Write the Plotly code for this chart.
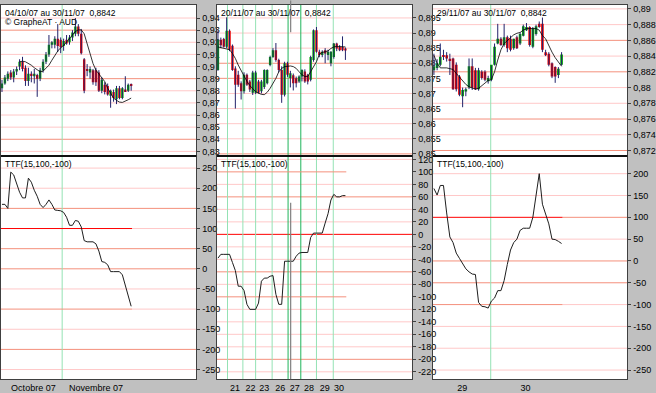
import plotly.graph_objects as go

W, H = 656, 393

# ---------------- DATA ----------------
# Panel 1 : daily candles 04/10/07 -> 30/11/07
p1_open = [0.882,0.886,0.890,0.895,0.891,0.896,0.900,0.904,0.899,0.888,0.894,0.892,0.893,0.890,0.897,
           0.904,0.910,0.918,0.918,0.923,0.922,0.917,0.922,0.920,0.924,0.927,0.933,0.927,0.906,0.898,
           0.895,0.897,0.897,0.895,0.880,0.885,0.884,0.876,0.879,0.873,0.882,0.874,0.881,0.880,0.885]
p1_high = [0.889,0.893,0.896,0.897,0.898,0.900,0.906,0.908,0.901,0.899,0.896,0.898,0.894,0.899,0.906,
           0.912,0.926,0.921,0.925,0.935,0.924,0.923,0.926,0.926,0.930,0.940,0.935,0.931,0.907,0.902,
           0.900,0.898,0.899,0.897,0.891,0.887,0.886,0.881,0.881,0.884,0.884,0.883,0.892,0.886,0.886]
p1_low = [0.879,0.885,0.888,0.889,0.887,0.893,0.897,0.896,0.884,0.884,0.887,0.886,0.875,0.888,0.895,
          0.902,0.908,0.915,0.915,0.912,0.911,0.913,0.918,0.918,0.921,0.925,0.925,0.910,0.878,0.892,
          0.890,0.885,0.884,0.879,0.878,0.877,0.876,0.866,0.871,0.869,0.873,0.873,0.879,0.879,0.880]
p1_close = [0.886,0.891,0.894,0.891,0.896,0.898,0.904,0.898,0.888,0.894,0.893,0.894,0.890,0.897,0.904,
            0.910,0.918,0.920,0.923,0.917,0.916,0.921,0.919,0.924,0.928,0.933,0.927,0.911,0.880,0.897,
            0.898,0.887,0.887,0.880,0.889,0.879,0.877,0.880,0.874,0.882,0.874,0.882,0.879,0.885,0.8842]
p1_ma = [None]*6 + [0.9039,0.9044,0.9039,0.9025,0.9011,0.899,0.897,0.8957,0.8962,0.8984,
                    0.9011,0.9052,0.9093,0.9128,0.9155,0.9174,0.9202,0.9229,0.9261,0.9289,
                    0.9302,0.9302,0.927,0.9188,0.9107,0.9025,0.897,0.8938,0.8911,0.8876,
                    0.8821,0.878,0.874,0.8721,0.8707,0.8704,0.8712,0.8726,0.874]
p1_ttf = [160,160,150,240,233,210,190,176,176,225,215,195,180,160,152,160,171,160,146,145,
          144,140,128,108,108,120,118,104,70,67,67,67,62,44,18,16,10,-7,-7,-7,-7,-15,-40,-70,-93]
p1_month_sep = [20.5]
p1_xtick_pos = [10.7, 32.0]
p1_xtick_text = ["Octobre 07", "Novembre 07"]
p1_price_ticks = [0.83,0.84,0.85,0.86,0.87,0.88,0.89,0.90,0.91,0.92,0.93,0.94]
p1_price_text = ["0,83","0,84","0,85","0,86","0,87","0,88","0,89","0,9","0,91","0,92","0,93","0,94"]
p1_ttf_ticks = [-250,-200,-150,-100,-50,0,50,100,150,200,250]

# Panel 2 : intraday 20/11/07 -> 30/11/07
p2_open = [0.8778,0.8878,0.8880,0.8855,0.8908,0.8858,0.8783,0.8762,0.8734,0.8707,0.8762,0.8740,0.8702,0.8702,0.8740,
           0.8707,0.8721,0.8734,0.8794,0.8821,0.8843,0.8811,0.8778,0.8696,0.8800,0.8751,0.8760,0.8750,0.8740,0.8756,
           0.8773,0.8762,0.8745,0.8811,0.8909,0.8838,0.8827,0.8843,0.8827,0.8800,0.8821,0.8865,0.8854,0.8854,0.8849]
p2_high = [0.8909,0.8885,0.8884,0.8952,0.8912,0.8862,0.8790,0.8775,0.8740,0.8770,0.8766,0.8745,0.8775,0.8775,0.8745,
           0.8745,0.8780,0.8780,0.8825,0.8850,0.8867,0.8815,0.8790,0.8805,0.8805,0.8775,0.8766,0.8756,0.8760,0.8780,
           0.8780,0.8765,0.8825,0.8912,0.8920,0.8845,0.8843,0.8850,0.8845,0.8840,0.8867,0.8868,0.8860,0.8889,0.8852]
p2_low = [0.8775,0.8850,0.8852,0.8850,0.8840,0.8775,0.8650,0.8722,0.8680,0.8700,0.8725,0.8705,0.8695,0.8698,0.8700,
          0.8700,0.8715,0.8730,0.8790,0.8818,0.8805,0.8770,0.8669,0.8690,0.8755,0.8720,0.8710,0.8720,0.8735,0.8740,
          0.8735,0.8730,0.8740,0.8805,0.8835,0.8820,0.8820,0.8800,0.8810,0.8790,0.8815,0.8840,0.8840,0.8840,0.8811]
p2_close = [0.8878,0.8860,0.8855,0.8908,0.8845,0.8778,0.8729,0.8729,0.8707,0.8762,0.8729,0.8713,0.8769,0.8769,0.8702,
            0.8740,0.8778,0.8778,0.8821,0.8843,0.8811,0.8778,0.8696,0.8800,0.8762,0.8767,0.8734,0.8734,0.8756,0.8778,
            0.8740,0.8740,0.8821,0.8909,0.8838,0.8827,0.8838,0.8832,0.8838,0.8838,0.8865,0.8849,0.8843,0.8843,0.8842]
p2_ma = [0.8854,0.8852,0.8851,0.8849,0.8845,0.8832,0.8816,0.8794,0.8775,0.8756,0.874,0.8726,0.8715,0.8706,0.8701,
         0.8697,0.8696,0.8704,0.8717,0.8732,0.875,0.8772,0.8783,0.8789,0.8791,0.8791,0.8789,0.8783,0.8772,0.8762,
         0.8756,0.8756,0.8772,0.8789,0.8805,0.883,0.8836,0.8838,0.8841,0.8849,0.8854,0.8856,0.8856,0.8855,0.8854]
p2_ttf = [-38,-32,-32,-32,-32,-45,-58,-83,-83,-90,-112,-120,-120,-120,-110,-75,-70,-70,-67,-66,
          -96,-112,-112,-43,-43,-43,-43,-35,-30,-29,-29,-29,-5,2,2,2,2,18,33,55,64,60,60,62,62]
p2_day_sep = [3.3, 8.6, 13.0, 18.7, 24.2, 28.6, 34.0, 39.8]
p2_day_pos = [5.9, 11.2, 16.0, 21.5, 26.5, 31.4, 36.9, 41.8]
p2_day_text = ["21", "22", "23", "26", "27", "28", "29", "30"]
p2_cursor = 25.1
p2_price_ticks = [0.85,0.855,0.86,0.865,0.87,0.875,0.88,0.885,0.89,0.895]
p2_price_text = ["0,85","0,855","0,86","0,865","0,87","0,875","0,88","0,885","0,89","0,895"]
p2_ttf_ticks = [-220,-200,-180,-160,-140,-120,-100,-80,-60,-40,-20,0,20,40,60,80,100,120]

# Panel 3 : intraday 29/11/07 -> 30/11/07
p3_open = [0.8822,0.8825,0.8829,0.8841,0.8841,0.8836,0.8837,0.8829,0.8814,0.8789,0.8795,0.8800,0.8827,0.8822,0.8798,
           0.8820,0.8820,0.8808,0.8810,0.8829,0.8856,0.8862,0.8854,0.8864,0.8862,0.8850,0.8864,0.8856,0.8866,0.8873,
           0.8877,0.8852,0.8868,0.8881,0.8881,0.8845,0.8843,0.8831,0.8826,0.8816,0.8829]
p3_high = [0.8843,0.8836,0.8856,0.8848,0.8845,0.8843,0.8838,0.8832,0.8816,0.8800,0.8800,0.8837,0.8837,0.8825,0.8825,
           0.8822,0.8822,0.8815,0.8828,0.8856,0.8881,0.8864,0.8881,0.8866,0.8866,0.8862,0.8866,0.8870,0.8880,0.8882,
           0.8878,0.8877,0.8880,0.8884,0.8889,0.8848,0.8845,0.8832,0.8827,0.8826,0.8845]
p3_low = [0.8816,0.8822,0.8827,0.8835,0.8833,0.8816,0.8797,0.8795,0.8789,0.8775,0.8789,0.8798,0.8797,0.8797,0.8796,
          0.8810,0.8808,0.8805,0.8808,0.8828,0.8855,0.8853,0.8852,0.8845,0.8846,0.8848,0.8849,0.8854,0.8865,0.8872,
          0.8852,0.8850,0.8866,0.8876,0.8845,0.8840,0.8827,0.8812,0.8806,0.8812,0.8828]
p3_close = [0.8827,0.8831,0.8839,0.8839,0.8837,0.8835,0.8798,0.8798,0.8791,0.8797,0.8798,0.8827,0.8800,0.8798,0.8822,
            0.8812,0.8810,0.8812,0.8829,0.8852,0.8862,0.8854,0.8864,0.8850,0.8848,0.8862,0.8850,0.8868,0.8878,0.8877,
            0.8854,0.8875,0.8878,0.8877,0.8848,0.8841,0.8829,0.8814,0.8814,0.8824,0.8842]
p3_ma = [0.8841,0.8831,0.8825,0.8825,0.8825,0.8824,0.8823,0.8818,0.8813,0.8808,0.8804,0.8801,0.8799,0.8798,0.8799,
         0.8802,0.8806,0.8809,0.881,0.882,0.8835,0.8848,0.8856,0.886,0.8864,0.8867,0.8869,0.887,0.8873,0.8875,
         0.8875,0.8875,0.8875,0.8873,0.8866,0.8862,0.8853,0.8845,0.8838,0.8832,0.8827]
p3_ttf = [166,151,173,173,110,55,42,18,6,-5,-18,-25,-30,-31,-95,-104,-105,-108,-92,-85,
          -68,-68,-45,-8,25,42,50,70,75,75,75,100,150,200,130,108,85,50,49,45,40]
p3_day_sep = [17.8]
p3_day_pos = [8.9, 28.7]
p3_day_text = ["29", "30"]
p3_price_ticks = [0.872,0.874,0.876,0.878,0.88,0.882,0.884,0.886,0.888,0.89]
p3_price_text = ["0,872","0,874","0,876","0,878","0,88","0,882","0,884","0,886","0,888","0,89"]
p3_ttf_ticks = [-250,-200,-150,-100,-50,0,50,100,150,200]

headers = ["04/10/07 au 30/11/07\u00a0\u00a00,8842",
           "20/11/07 au 30/11/07\u00a0\u00a00,8842",
           "29/11/07 au 30/11/07\u00a0\u00a00,8842"]
copyright_text = "\u00a9 GrapheAT \u00b7 AUD"
ttf_label = "TTF(15,100,-100)"

# ---------------- STYLE ----------------
GREEN_BODY = "#00a800"
RED_BODY = "#f00000"
WICK = "#22226a"
LIGHT = "#ffc8c8"
SALMON = "#f4907c"
RED = "#ff0000"
GRID_GREEN = "#94e2b4"
DARK_GREEN = "#1fb45a"
FRAME = "#404040"
FONT = "Liberation Sans Narrow, Liberation Sans, Arial, sans-serif"

panels = [
    dict(o=p1_open, h=p1_high, l=p1_low, c=p1_close, ma=p1_ma, ttf=p1_ttf,
         px=(0, 199), xr=(-0.33, 66.2), yr=(0.8262, 0.9508), tr=(-273.8, 280),
         pt=p1_price_ticks, ptt=p1_price_text, tt=p1_ttf_ticks,
         strong_p=[0.93, 0.89, 0.84], strong_t=[150, 50, 0, -200],
         partial=[(100, RED, LIGHT), (-100, SALMON, LIGHT)], red_full=[],
         seps=p1_month_sep, dark_seps=[], xt=p1_xtick_pos, xtt=p1_xtick_text),
    dict(o=p2_open, h=p2_high, l=p2_low, c=p2_close, ma=p2_ma, ttf=p2_ttf,
         px=(220, 419), xr=(-0.34, 67.1), yr=(0.8493, 0.8993), tr=(-231.7, 125.4),
         pt=p2_price_ticks, ptt=p2_price_text, tt=p2_ttf_ticks,
         strong_p=[0.88, 0.875, 0.85], strong_t=[60, -60, -200],
         partial=[(100, SALMON, None), (-100, SALMON, None)], red_full=[0],
         seps=p2_day_sep, dark_seps=[24.2, 28.6], xt=p2_day_pos, xtt=p2_day_text),
    dict(o=p3_open, h=p3_high, l=p3_low, c=p3_close, ma=p3_ma, ttf=p3_ttf,
         px=(440, 638), xr=(-0.3, 60.6), yr=(0.8713, 0.8905), tr=(-270.8, 240.5),
         pt=p3_price_ticks, ptt=p3_price_text, tt=p3_ttf_ticks,
         strong_p=[0.886, 0.882, 0.876, 0.872], strong_t=[0, -50],
         partial=[(100, RED, SALMON), (-100, SALMON, LIGHT)], red_full=[],
         seps=p3_day_sep, dark_seps=[], xt=p3_day_pos, xtt=p3_day_text),
]

fig = go.Figure()
shapes = []
annotations = []
layout = {}

TOP_Y = (1 - 157 / H, 1 - 4 / H)
BOT_Y = (1 - 383 / H, 1 - 157 / H)

def hline(xref, yref, y, color, x0=0, x1=1, width=1):
    return dict(type="line", xref=xref, yref=yref, x0=x0, x1=x1, y0=y, y1=y,
                line=dict(color=color, width=width), layer="below")

for k, P in enumerate(panels):
    nt, nb = 2 * k + 1, 2 * k + 2
    xt = "x" if nt == 1 else f"x{nt}"
    yt = "y" if nt == 1 else f"y{nt}"
    xb, yb = f"x{nb}", f"y{nb}"
    n = len(P["o"])
    idx = list(range(n))
    last = n - 1 + 0.3

    # candles : wicks + bodies
    wx, wy = [], []
    for i in idx:
        wx += [i, i, None]
        wy += [P["l"][i], P["h"][i], None]
    fig.add_trace(go.Scatter(x=wx, y=wy, mode="lines", line=dict(color=WICK, width=1),
                             xaxis=xt, yaxis=yt, hoverinfo="skip", showlegend=False))
    span = P["yr"][1] - P["yr"][0]
    base = [min(o, c) for o, c in zip(P["o"], P["c"])]
    hgt = [max(abs(c - o), span * 0.008) for o, c in zip(P["o"], P["c"])]
    cols = [GREEN_BODY if c >= o else RED_BODY for o, c in zip(P["o"], P["c"])]
    fig.add_trace(go.Bar(x=idx, y=hgt, base=base, width=0.82,
                         marker=dict(color=cols, line=dict(width=0)),
                         xaxis=xt, yaxis=yt, hoverinfo="skip", showlegend=False))
    fig.add_trace(go.Scatter(x=idx, y=P["ma"], mode="lines", line=dict(color="#000000", width=0.8),
                             xaxis=xt, yaxis=yt, hoverinfo="skip", showlegend=False))
    fig.add_trace(go.Scatter(x=idx, y=P["ttf"], mode="lines", line=dict(color="#1e1e1e", width=1),
                             xaxis=xb, yaxis=yb, hoverinfo="skip", showlegend=False))

    xd = [P["px"][0] / W, P["px"][1] / W]
    axx = dict(domain=xd, range=list(P["xr"]), showline=True, linecolor=FRAME, linewidth=1,
               mirror=True, showgrid=False, zeroline=False, fixedrange=True,
               rangeslider=dict(visible=False))
    axy = dict(side="right", ticks="outside", ticklen=3, tickcolor=FRAME, showline=True,
               linecolor=FRAME, linewidth=1, mirror=True, showgrid=False, zeroline=False,
               fixedrange=True, tickfont=dict(family=FONT, size=9, color="#000000"))
    layout["xaxis" if nt == 1 else f"xaxis{nt}"] = dict(axx, anchor=yt, showticklabels=False, ticks="")
    layout[f"xaxis{nb}"] = dict(axx, anchor=yb, tickvals=P["xt"], ticktext=P["xtt"], ticks="",
                                tickfont=dict(family=FONT, size=9, color="#000000"))
    layout["yaxis" if nt == 1 else f"yaxis{nt}"] = dict(axy, domain=list(TOP_Y), anchor=xt,
                                                        range=list(P["yr"]), tickvals=P["pt"],
                                                        ticktext=P["ptt"])
    layout[f"yaxis{nb}"] = dict(axy, domain=list(BOT_Y), anchor=xb, range=list(P["tr"]),
                                tickvals=P["tt"], ticktext=[str(v) for v in P["tt"]])

    # price grid lines
    strong = {round(v, 4) for v in P["strong_p"]}
    for v in P["pt"]:
        col = SALMON if round(v, 4) in strong else LIGHT
        shapes.append(hline(f"{xt} domain", yt, v, col))
    # TTF grid lines
    strong_t = set(P["strong_t"])
    partial_vals = {p[0] for p in P["partial"]}
    for v in P["tt"]:
        if v in partial_vals:
            continue
        if v in P["red_full"]:
            col = RED
        elif v in strong_t:
            col = SALMON
        else:
            col = LIGHT
        shapes.append(hline(f"{xb} domain", yb, v, col))
    for v, c_in, c_out in P["partial"]:
        if c_out:
            shapes.append(hline(xb, yb, v, c_out, x0=last, x1=P["xr"][1]))
        shapes.append(hline(xb, yb, v, c_in, x0=P["xr"][0], x1=last))

    # day / month separators
    for s in P["seps"]:
        col = DARK_GREEN if s in P["dark_seps"] else GRID_GREEN
        for xa, ya in ((xt, yt), (xb, yb)):
            shapes.append(dict(type="line", xref=xa, yref=f"{ya} domain", x0=s, x1=s, y0=0, y1=1,
                               line=dict(color=col, width=1), layer="below"))

    # black separator between price and indicator panes
    shapes.append(dict(type="line", xref=f"{xb} domain", yref=f"{yb} domain", x0=0, x1=1, y0=1, y1=1,
                       line=dict(color="#000000", width=1.5), layer="above"))

    # texts
    annotations.append(dict(text=headers[k], xref="paper", yref="paper",
                            x=(P["px"][0] + 2) / W, y=1 - 5 / H, xanchor="left", yanchor="top",
                            showarrow=False, font=dict(family=FONT, size=8.5, color="#000000")))
    annotations.append(dict(text=ttf_label, xref="paper", yref="paper",
                            x=(P["px"][0] + 2) / W, y=1 - 158 / H, xanchor="left", yanchor="top",
                            showarrow=False, font=dict(family=FONT, size=8.5, color="#000000")))

annotations.append(dict(text=copyright_text, xref="paper", yref="paper",
                        x=2 / W, y=1 - 14 / H, xanchor="left", yanchor="top",
                        showarrow=False, font=dict(family=FONT, size=8.5, color="#000000")))

# cursor line in panel 2
shapes.append(dict(type="line", xref="x3", yref="y3 domain", x0=p2_cursor, x1=p2_cursor, y0=0.82, y1=1.03,
                   line=dict(color="#808080", width=1.2), layer="above"))
shapes.append(dict(type="line", xref="x4", yref="y4 domain", x0=p2_cursor, x1=p2_cursor, y0=0, y1=0.79,
                   line=dict(color="#808080", width=1.2), layer="above"))

fig.update_layout(
    width=W, height=H, margin=dict(l=0, r=0, t=0, b=0),
    paper_bgcolor="#c0c0c0", plot_bgcolor="#ffffff",
    showlegend=False, hovermode=False, barmode="overlay",
    shapes=shapes, annotations=annotations,
    font=dict(family=FONT, size=9, color="#000000"),
    **layout,
)

fig.write_html("out.html", config={"displayModeBar": False})
